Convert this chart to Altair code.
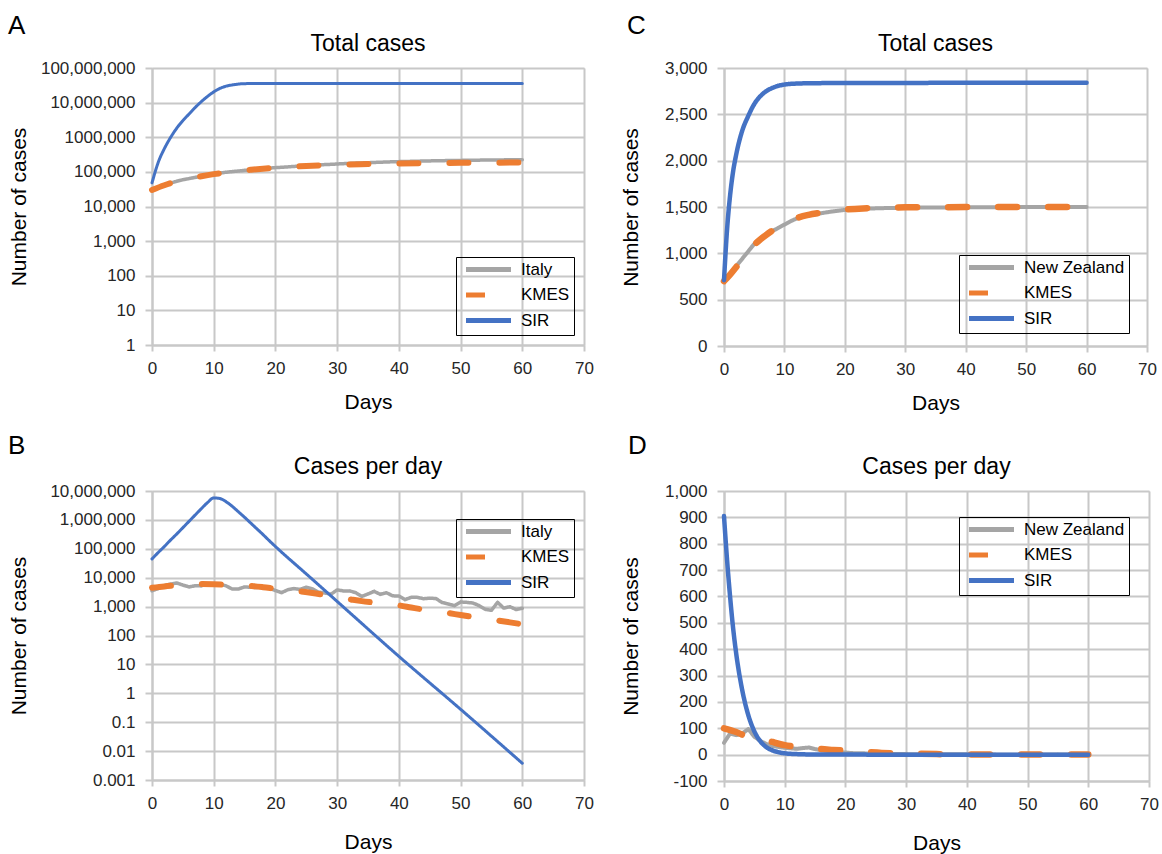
import json
import altair as alt
import pandas as pd

FONT = "Liberation Sans"
GRID = "#C8C8C8"
COLORS = ["#A5A5A5", "#ED7D31", "#4472C4"]
DASHES = [[1, 0], [19, 31], [1, 0]]

panel_letters = ["A", "B", "C", "D"]
panel_titles = ["Total cases", "Cases per day", "Total cases", "Cases per day"]
x_ticks = [0, 10, 20, 30, 40, 50, 60, 70]

# ---------------- Italy (panels A, B) ----------------
italy_days = list(range(61))
italy_total = [31506, 35713, 41035, 47021, 53578, 59138, 63927, 69176, 74386, 80539,
               86498, 92472, 97689, 101739, 105792, 110574, 115242, 119827, 124632, 128948,
               132547, 135586, 139422, 143626, 147577, 152271, 156363, 159516, 162488, 165155,
               168941, 172434, 175925, 178972, 181228, 183957, 187327, 189973, 192994, 195351,
               197675, 199414, 201505, 203591, 205463, 207428, 209328, 210717, 211938, 213013,
               214457, 215858, 217185, 218268, 219070, 219814, 221216, 222104, 223096, 223885,
               224760]
italy_daily = [3526, 4207, 5322, 5986, 6557, 5560, 4789, 5249, 5210, 6153,
               5959, 5974, 5217, 4050, 4053, 4782, 4668, 4585, 4805, 4316,
               3599, 3039, 3836, 4204, 3951, 4694, 4092, 3153, 2972, 2667,
               3786, 3493, 3491, 3047, 2256, 2729, 3370, 2646, 3021, 2357,
               2324, 1739, 2091, 2086, 1872, 1965, 1900, 1389, 1221, 1075,
               1444, 1401, 1327, 1083, 802, 744, 1402, 888, 992, 789, 875]

kmes_total_A_days = [0, 2, 4, 6, 8, 10, 12, 14, 16, 18, 20, 25, 30, 35, 40, 45, 50, 55, 60]
kmes_total_A = [30000, 41000, 53000, 64000, 75000, 86000, 96000, 106000, 115000, 124000,
                132000, 148000, 160000, 168000, 174000, 178500, 182000, 184500, 186000]

sir_total_A_days = [0, 1, 2, 3, 4, 5, 6, 7, 8, 9, 10, 11, 12, 13, 14, 15, 17, 20, 30, 40, 50, 60]
sir_total_A = [48000, 186000, 468000, 977000, 1820000, 3020000, 4680000, 7240000, 10700000,
               15100000, 20400000, 25700000, 29900000, 32400000, 34300000, 35300000,
               35700000, 35900000, 35900000, 35900000, 35900000, 35900000]

kmes_daily_B_days = list(range(0, 61, 2))
kmes_daily_B = [4500, 5000, 5400, 5800, 6000, 5900, 5700, 5450, 5200, 4700, 4150, 3700, 3350,
                2950, 2500, 2100, 1800, 1550, 1380, 1230, 1100, 930, 790, 690, 600, 510, 440,
                380, 330, 285, 245]

sir_daily_B_days = list(range(0, 21)) + [25, 30, 40, 50, 60]
sir_daily_B = [44700, 74100, 120000, 200000, 324000, 537000, 891000, 1480000, 2450000, 3980000,
               5750000, 5500000, 4270000, 2950000, 1905000, 1230000, 776000, 490000, 309000,
               191000, 120000, 13500, 1510, 19, 0.28, 0.0038]

# ---------------- New Zealand (panels C, D) ----------------
nz_total_days = list(range(0, 11)) + [12, 14, 16, 18, 20, 23, 26, 30, 35, 40, 50, 60]
nz_total = [705, 780, 860, 940, 1020, 1100, 1160, 1205, 1240, 1275, 1310, 1375, 1410, 1432,
            1452, 1468, 1480, 1487, 1492, 1495, 1497, 1499, 1500]

kmes_total_C_days = list(range(0, 11)) + [12, 14, 16, 18, 20, 23, 26, 30, 40, 50, 60]
kmes_total_C = [700, 770, 850, 930, 1010, 1090, 1150, 1200, 1245, 1285, 1320, 1380, 1415, 1438,
                1458, 1472, 1485, 1492, 1496, 1499, 1500, 1500]

sir_total_C_days = [0, 0.5, 1, 1.5, 2, 3, 4, 5, 6, 7, 8, 9, 10, 12, 15, 20, 30, 40, 50, 60]
sir_total_C = [710, 1250, 1620, 1880, 2060, 2320, 2480, 2610, 2695, 2750, 2785, 2808, 2821,
               2832, 2836, 2838, 2839, 2840, 2840, 2840]

nz_daily_days = list(range(0, 31)) + [35, 40, 45, 50, 55, 60]
nz_daily = [45, 80, 74, 80, 97, 68, 52, 40, 33, 29, 26, 24, 22, 25, 27, 21, 17, 15, 12, 9,
            8, 6, 5, 5, 4, 4, 3, 3, 2, 2, 2, 1, 1, 0, 0, 1, 0]

kmes_daily_D_days = list(range(0, 31, 2)) + [35, 40, 45, 50, 55, 60]
kmes_daily_D = [100, 86, 67, 62, 48, 36, 30, 25, 21, 18, 15, 12, 9, 6.5, 5, 4,
                2, 1, 0.6, 0.4, 0.2, 0.1]

sir_daily_D_days = [0, 0.5, 1, 1.5, 2, 3, 4, 5, 6, 7, 8, 9, 10, 12, 15, 20, 30, 40, 50, 60]
sir_daily_D = [905, 740, 600, 480, 385, 245, 150, 88, 50, 28, 16, 9, 5, 2, 0.5, 0.1, 0, 0, 0, 0]

# ---------------- axis ticks ----------------
yA_ticks = [1, 10, 100, 1000, 10000, 100000, 1000000, 10000000, 100000000]
yA_labels = ["1", "10", "100", "1,000", "10,000", "100,000", "1000,000", "10,000,000", "100,000,000"]
yB_ticks = [0.001, 0.01, 0.1, 1, 10, 100, 1000, 10000, 100000, 1000000, 10000000]
yB_labels = ["0.001", "0.01", "0.1", "1", "10", "100", "1,000", "10,000", "100,000", "1,000,000", "10,000,000"]
yC_ticks = [0, 500, 1000, 1500, 2000, 2500, 3000]
yC_labels = ["0", "500", "1,000", "1,500", "2,000", "2,500", "3,000"]
yD_ticks = [-100, 0, 100, 200, 300, 400, 500, 600, 700, 800, 900, 1000]
yD_labels = ["-100", "0", "100", "200", "300", "400", "500", "600", "700", "800", "900", "1,000"]


def make_df(series_list):
    rows = []
    for name, days, vals in series_list:
        for d, v in zip(days, vals):
            rows.append({"day": d, "value": v, "series": name})
    return pd.DataFrame(rows)


def panel(df, names, yscale, yticks, ylabels, title, letter, letter_xy, width, height,
          legend_xy, ytitle_x, widths, interps, title_offset, xtitle_pad):
    label_expr = f"{json.dumps(ylabels)}[indexof({json.dumps(yticks)}, datum.value)]"
    common_axis = dict(
        grid=True, gridColor=GRID, gridWidth=2,
        domainColor=GRID, domainWidth=2,
        tickColor=GRID, tickWidth=2,
        labelFont=FONT, labelFontSize=17, labelColor="#262626",
        labelOverlap=False, labelFlush=False,
        titleFont=FONT, titleFontSize=21, titleFontWeight="normal", titleColor="black",
    )
    x_enc = alt.X("day:Q",
                  scale=alt.Scale(domain=[0, 70], nice=False, zero=False),
                  axis=alt.Axis(values=x_ticks, title="Days", tickSize=6, labelPadding=9,
                                titlePadding=xtitle_pad, **common_axis))
    y_enc = alt.Y("value:Q", scale=yscale,
                  axis=alt.Axis(values=yticks, labelExpr=label_expr, title="Number of cases",
                                tickSize=7, labelPadding=10, titleX=ytitle_x,
                                titleBaseline="middle", **common_axis))
    legend = alt.Legend(orient="none", legendX=legend_xy[0], legendY=legend_xy[1], title=None,
                        direction="vertical", strokeColor="black", padding=4, rowPadding=4.5,
                        symbolType="M-5,0H5", symbolSize=81, symbolStrokeWidth=5,
                        symbolOffset=20, labelOffset=24, labelFont=FONT, labelFontSize=17,
                        labelColor="black")
    color_enc = alt.Color("series:N", scale=alt.Scale(domain=names, range=COLORS), legend=legend)
    dash_enc = alt.StrokeDash("series:N", scale=alt.Scale(domain=names, range=DASHES), legend=legend)

    layers = []
    for name, sw, interp in zip(names, widths, interps):
        layers.append(
            alt.Chart(df).transform_filter(alt.datum.series == name)
            .mark_line(strokeWidth=sw, strokeCap="round", strokeJoin="round", interpolate=interp)
            .encode(x=x_enc, y=y_enc, color=color_enc, strokeDash=dash_enc)
        )
    letter_layer = alt.Chart(pd.DataFrame({"t": [letter]})).mark_text(
        align="left", baseline="top", fontSize=26, font=FONT, color="black"
    ).encode(text="t:N", x=alt.value(letter_xy[0]), y=alt.value(letter_xy[1]))
    layers.append(letter_layer)

    return alt.layer(*layers).properties(
        width=width, height=height,
        title=alt.TitleParams(title, font=FONT, fontSize=23, fontWeight="normal", color="black",
                              anchor="middle", offset=title_offset),
    )


dfA = make_df([("Italy", italy_days, italy_total),
               ("KMES", kmes_total_A_days, kmes_total_A),
               ("SIR", sir_total_A_days, sir_total_A)])
dfB = make_df([("Italy", italy_days, italy_daily),
               ("KMES", kmes_daily_B_days, kmes_daily_B),
               ("SIR", sir_daily_B_days, sir_daily_B)])
dfC = make_df([("New Zealand", nz_total_days, nz_total),
               ("KMES", kmes_total_C_days, kmes_total_C),
               ("SIR", sir_total_C_days, sir_total_C)])
dfD = make_df([("New Zealand", nz_daily_days, nz_daily),
               ("KMES", kmes_daily_D_days, kmes_daily_D),
               ("SIR", sir_daily_D_days, sir_daily_D)])

italy_names = ["Italy", "KMES", "SIR"]
nz_names = ["New Zealand", "KMES", "SIR"]

pA = panel(dfA, italy_names, alt.Scale(type="log", domain=[1, 1e8], nice=False),
           yA_ticks, yA_labels, panel_titles[0], panel_letters[0], (-144, -55), 432, 277,
           (304, 189), -133, [3.5, 6, 3], ["linear", "monotone", "monotone"], -43, 15)
pB = panel(dfB, italy_names, alt.Scale(type="log", domain=[0.001, 1e7], nice=False),
           yB_ticks, yB_labels, panel_titles[1], panel_letters[1], (-144, -58), 432, 289,
           (304, 28), -133, [3.5, 6, 3], ["linear", "monotone", "monotone"], -46, 20)
pC = panel(dfC, nz_names, alt.Scale(domain=[0, 3000], nice=False),
           yC_ticks, yC_labels, panel_titles[2], panel_letters[2], (-97, -55), 423, 278,
           (235, 187), -93, [4, 6.5, 4.5], ["monotone", "monotone", "monotone"], -43, 15)
pD = panel(dfD, nz_names, alt.Scale(domain=[-100, 1000], nice=False),
           yD_ticks, yD_labels, panel_titles[3], panel_letters[3], (-96, -58), 425, 290,
           (235, 26), -93, [4, 6.5, 4.5], ["linear", "monotone", "monotone"], -46, 20)

chart = alt.concat(
    pA, pC, pB, pD, columns=2,
    spacing={"row": 133, "column": 140}, bounds="flush", align="all",
).resolve_scale(
    color="independent", strokeDash="independent"
).resolve_legend(
    color="independent", strokeDash="independent"
).properties(
    padding={"left": 7, "top": 12, "right": 2, "bottom": 2}
).configure_view(stroke=None).configure(background="white")

chart.save("out.html", embed_options={"renderer": "svg", "actions": False})
